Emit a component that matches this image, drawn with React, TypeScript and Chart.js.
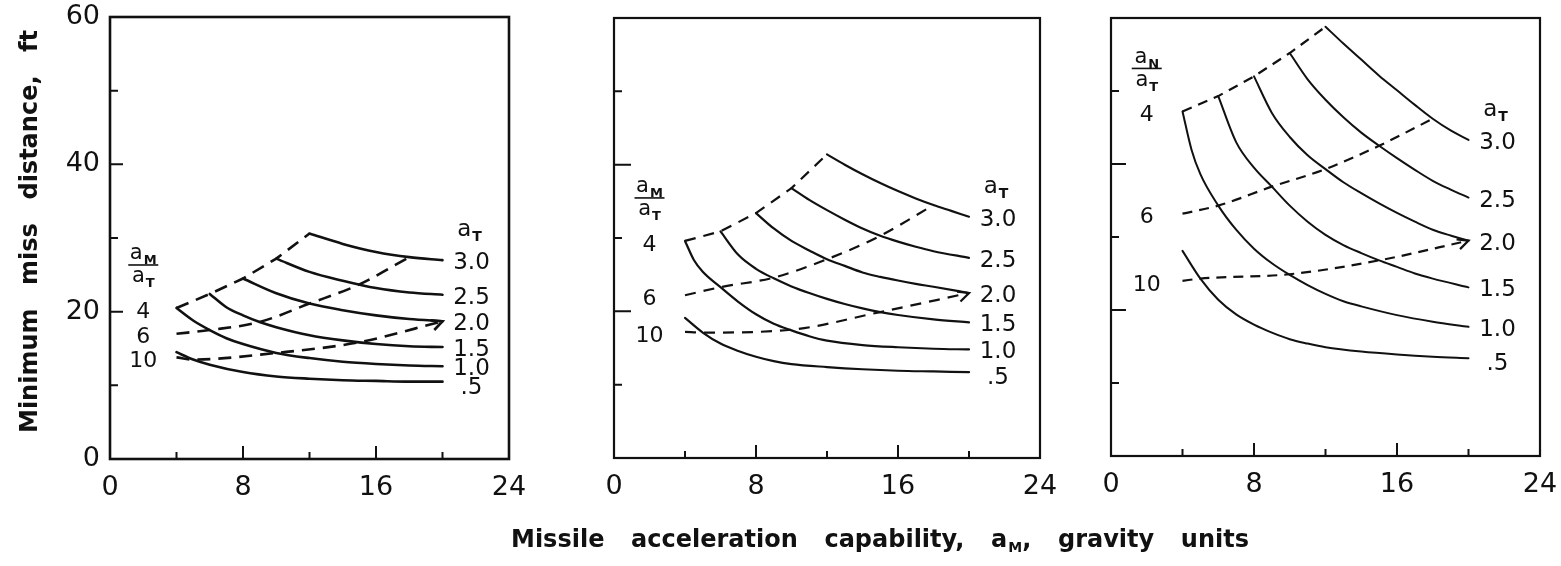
import React, { useEffect, useRef } from 'react';
import { Chart, registerables } from 'chart.js';

Chart.register(...registerables);

const W = 1561;
const H = 566;
const INK = '#111';
const FONT = "'DejaVu Sans', 'Liberation Sans', sans-serif";
const TITLE_FONT = "'DejaVu Sans', 'Liberation Sans', sans-serif";

// ---- axis ticks / labels ----
const X_TICKS = [0, 8, 16, 24];
const X_MINOR = [4, 12, 20];
const Y_TICKS = [0, 20, 40, 60];
const Y_MINOR = [10, 30, 50];
const AT_LABELS = ['.5', '1.0', '1.5', '2.0', '2.5', '3.0'];
const RATIO_LABELS = ['4', '6', '10'];
const Y_TITLE_WORDS = ['Minimum', 'miss', 'distance,', 'ft'];
const X_TITLE_WORDS = ['Missile', 'acceleration', 'capability,', 'a|M|,', 'gravity', 'units'];

// ---- Panel 1 (left) : solid curves, a_T = .5 ... 3.0 ----
const p1_at05_x = [4, 5, 6, 8, 10, 12, 14, 16, 18, 20];
const p1_at05_y = [14.5, 13.5, 12.8, 11.8, 11.2, 10.9, 10.7, 10.6, 10.5, 10.5];
const p1_at10_x = [4, 5, 6, 7, 8, 10, 12, 14, 16, 18, 20];
const p1_at10_y = [20.5, 18.8, 17.5, 16.4, 15.6, 14.4, 13.7, 13.2, 12.9, 12.7, 12.6];
const p1_at15_x = [6, 7, 8, 9, 10, 12, 14, 16, 18, 20];
const p1_at15_y = [22.4, 20.6, 19.5, 18.6, 17.9, 16.8, 16.1, 15.6, 15.3, 15.2];
const p1_at20_x = [8, 10, 12, 14, 16, 18, 20];
const p1_at20_y = [24.5, 22.5, 21.1, 20.2, 19.5, 19.0, 18.7];
const p1_at25_x = [10, 12, 14, 16, 18, 20];
const p1_at25_y = [27.2, 25.4, 24.2, 23.2, 22.6, 22.3];
const p1_at30_x = [12, 14, 16, 18, 20];
const p1_at30_y = [30.6, 29.2, 28.1, 27.4, 27.0];
// dashed a_M/a_T = 4, 6, 10
const p1_r4_x = [4, 6, 8, 10, 12];
const p1_r4_y = [20.5, 22.4, 24.5, 27.2, 30.6];
const p1_r6_x = [4, 6, 9, 12, 15, 18];
const p1_r6_y = [17.0, 17.5, 18.6, 21.1, 23.7, 27.4];
const p1_r10_x = [4, 5, 10, 15, 20];
const p1_r10_y = [13.8, 13.5, 14.4, 15.85, 18.7];

// ---- Panel 2 (middle) ----
const p2_at05_x = [4, 5, 6, 7, 8, 9, 10, 12, 14, 16, 18, 20];
const p2_at05_y = [19.1, 17.1, 15.6, 14.6, 13.8, 13.2, 12.8, 12.4, 12.1, 11.9, 11.8, 11.7];
const p2_at10_x = [4, 4.5, 5, 6, 7, 8, 9, 10, 11, 12, 14, 16, 18, 20];
const p2_at10_y = [29.6, 27.0, 25.4, 23.3, 21.3, 19.6, 18.3, 17.4, 16.6, 16.0, 15.4, 15.1, 14.9, 14.8];
const p2_at15_x = [6, 7, 8, 9, 10, 11, 12, 13, 14, 15, 16, 18, 20];
const p2_at15_y = [30.9, 27.7, 25.8, 24.5, 23.4, 22.5, 21.7, 21.0, 20.4, 19.9, 19.5, 18.9, 18.5];
const p2_at20_x = [8, 9, 10, 11, 12, 13, 14, 15, 16, 17, 18, 20];
const p2_at20_y = [33.4, 31.3, 29.6, 28.3, 27.1, 26.2, 25.3, 24.7, 24.2, 23.75, 23.35, 22.5];
const p2_at25_x = [10, 11, 12, 13, 14, 15, 16, 17, 18, 20];
const p2_at25_y = [36.8, 35.2, 33.8, 32.5, 31.3, 30.3, 29.5, 28.8, 28.2, 27.3];
const p2_at30_x = [12, 13, 14, 15, 16, 17, 18, 19, 20];
const p2_at30_y = [41.4, 40.0, 38.7, 37.5, 36.4, 35.4, 34.5, 33.7, 32.9];
const p2_r4_x = [4, 6, 8, 10, 12];
const p2_r4_y = [29.6, 30.9, 33.4, 36.8, 41.4];
const p2_r6_x = [4, 6, 9, 12, 15, 18];
const p2_r6_y = [22.2, 23.3, 24.6, 27.1, 30.3, 34.5];
const p2_r10_x = [4, 5, 10, 15, 20];
const p2_r10_y = [17.2, 17.1, 17.5, 19.9, 22.5];

// ---- Panel 3 (right) ----
const p3_at05_x = [4, 5, 6, 7, 8, 9, 10, 11, 12, 14, 16, 18, 20];
const p3_at05_y = [28.1, 24.3, 21.4, 19.4, 18.0, 16.9, 16.0, 15.4, 14.9, 14.3, 13.9, 13.6, 13.4];
const p3_at10_x = [4, 4.5, 5, 6, 7, 8, 9, 10, 11, 12, 13, 14, 16, 18, 20];
const p3_at10_y = [47.2, 42.0, 38.6, 34.3, 31.0, 28.4, 26.4, 24.8, 23.4, 22.2, 21.2, 20.5, 19.3, 18.4, 17.7];
const p3_at15_x = [6, 7, 8, 9, 10, 11, 12, 13, 14, 15, 16, 17, 18, 20];
const p3_at15_y = [49.3, 43.0, 39.5, 36.9, 34.3, 32.1, 30.3, 28.9, 27.8, 26.8, 25.9, 25.0, 24.3, 23.1];
const p3_at20_x = [8, 9, 10, 11, 12, 13, 14, 15, 16, 17, 18, 19, 20];
const p3_at20_y = [52.0, 47.0, 43.7, 41.2, 39.3, 37.5, 36.0, 34.6, 33.3, 32.1, 31.0, 30.2, 29.5];
const p3_at25_x = [10, 11, 12, 13, 14, 15, 16, 17, 18, 19, 20];
const p3_at25_y = [55.2, 51.6, 48.8, 46.4, 44.3, 42.5, 40.8, 39.2, 37.7, 36.5, 35.4];
const p3_at30_x = [12, 13, 14, 15, 16, 17, 18, 19, 20];
const p3_at30_y = [58.8, 56.5, 54.3, 52.1, 50.1, 48.1, 46.2, 44.6, 43.3];
const p3_r4_x = [4, 6, 8, 10, 12];
const p3_r4_y = [47.2, 49.3, 52.0, 55.2, 58.8];
const p3_r6_x = [4, 6, 9, 12, 15, 18];
const p3_r6_y = [33.2, 34.3, 36.9, 39.3, 42.5, 46.2];
const p3_r10_x = [4, 5, 10, 15, 20];
const p3_r10_y = [24.0, 24.3, 24.9, 26.8, 29.5];

type Series = { xs: number[]; ys: number[] };
const S = (xs: number[], ys: number[]): Series => ({ xs, ys });

interface PanelCfg {
  curves: Series[];
  ratios: Series[];
  fracSub: string;
  pad: { left: number; top: number; right: number; bottom: number };
  showY: boolean;
  solidWidth: number;
  dashWidth: number;
  dash: number[];
  frameWidth: number;
  majorY: number;
  drawTitles: boolean;
}

const Y_AXIS_W = 60;
const X_AXIS_H = 40;

const PANELS: PanelCfg[] = [
  {
    curves: [S(p1_at05_x, p1_at05_y), S(p1_at10_x, p1_at10_y), S(p1_at15_x, p1_at15_y), S(p1_at20_x, p1_at20_y), S(p1_at25_x, p1_at25_y), S(p1_at30_x, p1_at30_y)],
    ratios: [S(p1_r4_x, p1_r4_y), S(p1_r6_x, p1_r6_y), S(p1_r10_x, p1_r10_y)],
    fracSub: 'M',
    pad: { left: 110 - Y_AXIS_W, top: 17, right: W - 509, bottom: H - 459 - X_AXIS_H },
    showY: true,
    solidWidth: 2.6,
    dashWidth: 2.6,
    dash: [13, 8],
    frameWidth: 2.6,
    majorY: 13,
    drawTitles: true,
  },
  {
    curves: [S(p2_at05_x, p2_at05_y), S(p2_at10_x, p2_at10_y), S(p2_at15_x, p2_at15_y), S(p2_at20_x, p2_at20_y), S(p2_at25_x, p2_at25_y), S(p2_at30_x, p2_at30_y)],
    ratios: [S(p2_r4_x, p2_r4_y), S(p2_r6_x, p2_r6_y), S(p2_r10_x, p2_r10_y)],
    fracSub: 'M',
    pad: { left: 614, top: 18, right: W - 1040, bottom: H - 458 - X_AXIS_H },
    showY: false,
    solidWidth: 2.2,
    dashWidth: 2.2,
    dash: [11, 8],
    frameWidth: 2.2,
    majorY: 17,
    drawTitles: false,
  },
  {
    curves: [S(p3_at05_x, p3_at05_y), S(p3_at10_x, p3_at10_y), S(p3_at15_x, p3_at15_y), S(p3_at20_x, p3_at20_y), S(p3_at25_x, p3_at25_y), S(p3_at30_x, p3_at30_y)],
    ratios: [S(p3_r4_x, p3_r4_y), S(p3_r6_x, p3_r6_y), S(p3_r10_x, p3_r10_y)],
    fracSub: 'N',
    pad: { left: 1111, top: 18, right: W - 1540, bottom: H - 456 - X_AXIS_H },
    showY: false,
    solidWidth: 2.0,
    dashWidth: 2.2,
    dash: [10, 7],
    frameWidth: 2.2,
    majorY: 15,
    drawTitles: false,
  },
];

function subWidth(ctx: CanvasRenderingContext2D, base: string, sub: string, tail: string, size: number, weight = '', family = FONT) {
  ctx.font = `${weight} ${size}px ${family}`;
  const wb = ctx.measureText(base).width;
  const wt = tail ? ctx.measureText(tail).width : 0;
  ctx.font = `bold ${Math.round(size * 0.6)}px ${FONT}`;
  const ws = ctx.measureText(sub).width;
  return { wb, ws, wt, total: wb + ws + wt + 1 };
}

function drawSub(ctx: CanvasRenderingContext2D, base: string, sub: string, x: number, y: number, size: number, align: 'center' | 'left' = 'center', tail = '', weight = '', family = FONT) {
  const m = subWidth(ctx, base, sub, tail, size, weight, family);
  let sx = align === 'center' ? x - m.total / 2 : x;
  ctx.textAlign = 'left';
  ctx.textBaseline = 'middle';
  ctx.font = `${weight} ${size}px ${family}`;
  ctx.fillText(base, sx, y);
  sx += m.wb + 1;
  ctx.font = `bold ${Math.round(size * 0.6)}px ${FONT}`;
  ctx.fillText(sub, sx, y + size * 0.32);
  sx += m.ws;
  if (tail) {
    ctx.font = `${weight} ${size}px ${family}`;
    ctx.fillText(tail, sx, y);
  }
  return m.total;
}

function wordWidth(ctx: CanvasRenderingContext2D, w: string, font: string, size: number) {
  if (w.includes('|')) {
    const [b, s, t] = w.split('|');
    return subWidth(ctx, b, s, t, size, 'bold', TITLE_FONT).total;
  }
  ctx.font = font;
  return ctx.measureText(w).width;
}

function drawWords(ctx: CanvasRenderingContext2D, words: string[], x0: number, x1: number, y: number, size: number) {
  const font = `bold ${size}px ${TITLE_FONT}`;
  const widths = words.map((w) => wordWidth(ctx, w, font, size));
  const sum = widths.reduce((a, b) => a + b, 0);
  const gap = (x1 - x0 - sum) / (words.length - 1);
  let x = x0;
  words.forEach((w, i) => {
    if (w.includes('|')) {
      const [b, s, t] = w.split('|');
      drawSub(ctx, b, s, x, y, size, 'left', t, 'bold', TITLE_FONT);
    } else {
      ctx.font = font;
      ctx.textAlign = 'left';
      ctx.textBaseline = 'middle';
      ctx.fillText(w, x, y);
    }
    x += widths[i] + gap;
  });
}

function makeDecor(cfg: PanelCfg) {
  return {
    id: 'panelDecor',
    afterDraw(chart: any) {
      const ctx: CanvasRenderingContext2D = chart.ctx;
      const a = chart.chartArea;
      const xs = chart.scales.x;
      const ys = chart.scales.y;
      ctx.save();
      ctx.strokeStyle = INK;
      ctx.fillStyle = INK;
      ctx.setLineDash([]);
      ctx.lineCap = 'butt';
      ctx.lineWidth = cfg.frameWidth;
      ctx.strokeRect(a.left, a.top, a.right - a.left, a.bottom - a.top);

      // inward tick marks
      ctx.lineWidth = 2;
      ctx.beginPath();
      X_TICKS.slice(1, -1).forEach((v) => {
        const px = xs.getPixelForValue(v);
        ctx.moveTo(px, a.bottom);
        ctx.lineTo(px, a.bottom - 13);
      });
      X_MINOR.forEach((v) => {
        const px = xs.getPixelForValue(v);
        ctx.moveTo(px, a.bottom);
        ctx.lineTo(px, a.bottom - 7);
      });
      Y_TICKS.slice(1, -1).forEach((v) => {
        const py = ys.getPixelForValue(v);
        ctx.moveTo(a.left, py);
        ctx.lineTo(a.left + cfg.majorY, py);
      });
      Y_MINOR.forEach((v) => {
        const py = ys.getPixelForValue(v);
        ctx.moveTo(a.left, py);
        ctx.lineTo(a.left + 8, py);
      });
      ctx.stroke();

      const n = cfg.curves.length;
      // a_T labels at right ends
      for (let i = 0; i < n; i++) {
        const pts = chart.getDatasetMeta(i).data;
        const p = pts[pts.length - 1];
        const dy = i === 0 ? 6 : 3;
        ctx.font = `23px ${FONT}`;
        ctx.textAlign = 'center';
        ctx.textBaseline = 'middle';
        ctx.fillText(AT_LABELS[i], p.x + 29, p.y + dy);
      }
      const topPts = chart.getDatasetMeta(n - 1).data;
      const tp = topPts[topPts.length - 1];
      drawSub(ctx, 'a', 'T', tp.x + 27, tp.y + 3 - 33, 23);

      // ratio labels on the left
      const lx = xs.getPixelForValue(2);
      for (let j = 0; j < cfg.ratios.length; j++) {
        const p = chart.getDatasetMeta(n + j).data[0];
        ctx.font = `22px ${FONT}`;
        ctx.textAlign = 'center';
        ctx.textBaseline = 'middle';
        ctx.fillText(RATIO_LABELS[j], lx, p.y + 4);
      }
      const r4 = chart.getDatasetMeta(n).data[0];
      const fy = r4.y + 4 - 47;
      drawSub(ctx, 'a', cfg.fracSub, lx, fy - 11, 21);
      ctx.lineWidth = 1.6;
      ctx.beginPath();
      ctx.moveTo(lx - 15, fy);
      ctx.lineTo(lx + 15, fy);
      ctx.stroke();
      drawSub(ctx, 'a', 'T', lx, fy + 12, 21);

      // arrow head at the end of the a_M/a_T = 10 line
      const r10 = chart.getDatasetMeta(n + 2).data;
      const e = r10[r10.length - 1];
      const q = r10[r10.length - 2];
      const ang = Math.atan2(e.y - q.y, e.x - q.x) - 0.12;
      ctx.lineWidth = cfg.dashWidth;
      ctx.beginPath();
      ctx.moveTo(e.x - 12 * Math.cos(ang - 0.45), e.y - 12 * Math.sin(ang - 0.45));
      ctx.lineTo(e.x, e.y);
      ctx.lineTo(e.x - 12 * Math.cos(ang + 0.45), e.y - 12 * Math.sin(ang + 0.45));
      ctx.stroke();

      if (cfg.drawTitles) {
        ctx.save();
        ctx.translate(31, 433);
        ctx.rotate(-Math.PI / 2);
        drawWords(ctx, Y_TITLE_WORDS, 0, 403, 0, 24);
        ctx.restore();
        drawWords(ctx, X_TITLE_WORDS, 511, 1249, 541, 24);
      }
      ctx.restore();
    },
  };
}

function buildConfig(cfg: PanelCfg): any {
  const solid = cfg.curves.map((s) => ({
    data: s.xs.map((x, i) => ({ x, y: s.ys[i] })),
    borderColor: INK,
    borderWidth: cfg.solidWidth,
    pointRadius: 0,
    fill: false,
    cubicInterpolationMode: 'monotone',
    borderCapStyle: 'round',
  }));
  const dashed = cfg.ratios.map((s, j) => ({
    data: s.xs.map((x, i) => ({ x, y: s.ys[i] })),
    borderColor: INK,
    borderWidth: cfg.dashWidth,
    borderDash: cfg.dash,
    pointRadius: 0,
    fill: false,
    tension: 0,
    cubicInterpolationMode: j === 0 ? 'default' : 'monotone',
  }));
  return {
    type: 'line',
    data: { datasets: [...solid, ...dashed] },
    options: {
      animation: false,
      responsive: false,
      events: [],
      layout: { padding: cfg.pad },
      plugins: { legend: { display: false }, tooltip: { enabled: false } },
      scales: {
        x: {
          type: 'linear',
          min: 0,
          max: 24,
          position: 'bottom',
          afterFit: (s: any) => {
            s.height = X_AXIS_H;
            s.paddingLeft = 0;
            s.paddingRight = 0;
          },
          grid: { display: false, drawTicks: false },
          border: { display: false },
          ticks: {
            stepSize: 8,
            padding: 13,
            color: INK,
            maxRotation: 0,
            autoSkip: false,
            font: { family: FONT, size: 27 },
          },
        },
        y: {
          type: 'linear',
          min: 0,
          max: 60,
          position: 'left',
          display: cfg.showY,
          afterFit: (s: any) => {
            s.width = cfg.showY ? Y_AXIS_W : 0;
            s.paddingTop = 0;
            s.paddingBottom = 0;
          },
          grid: { display: false, drawTicks: false },
          border: { display: false },
          ticks: {
            stepSize: 20,
            padding: 10,
            color: INK,
            font: { family: FONT, size: 27 },
          },
        },
      },
    },
    plugins: [makeDecor(cfg)],
  };
}

export default function App() {
  const r0 = useRef<HTMLCanvasElement>(null);
  const r1 = useRef<HTMLCanvasElement>(null);
  const r2 = useRef<HTMLCanvasElement>(null);
  const refs = [r0, r1, r2];

  useEffect(() => {
    document.body.style.margin = '0';
    const charts = PANELS.map((cfg, i) => new Chart(refs[i].current as HTMLCanvasElement, buildConfig(cfg)));
    return () => charts.forEach((c) => c.destroy());
  }, []);

  return (
    <div style={{ position: 'relative', width: W, height: H, background: '#fff', overflow: 'hidden' }}>
      {PANELS.map((_, i) => (
        <canvas
          key={i}
          ref={refs[i]}
          width={W}
          height={H}
          style={{ position: 'absolute', left: 0, top: 0, width: W, height: H }}
        />
      ))}
    </div>
  );
}
